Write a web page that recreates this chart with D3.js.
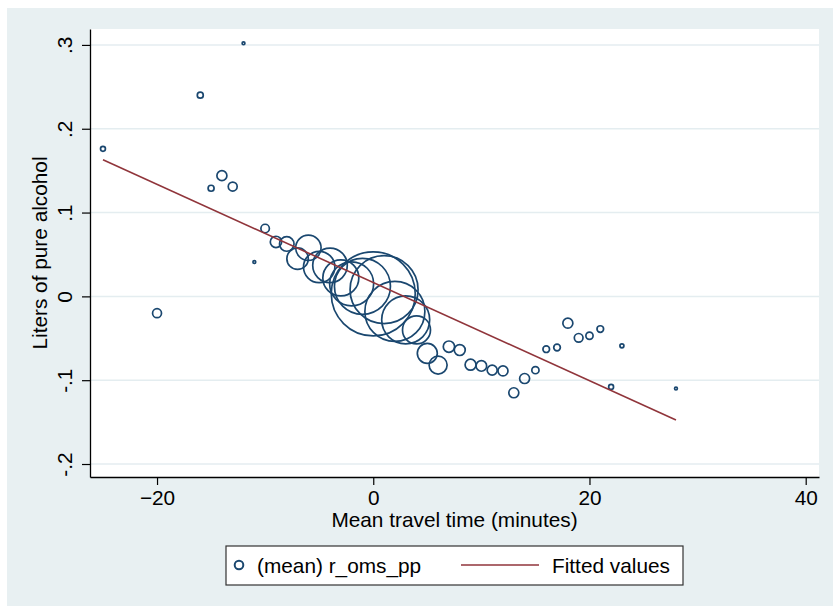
<!DOCTYPE html>
<html>
<head>
<meta charset="utf-8">
<script src="https://cdn.jsdelivr.net/npm/d3@7"></script>
<style>
  body { margin: 0; background: #ffffff; }
  text { font-family: "Liberation Sans", Arial, Helvetica, sans-serif; fill: #000; }
</style>
</head>
<body>
<svg id="chart" width="833" height="610"></svg>
<script>
// Mean travel time (minutes, centred) for each group
const travelTime = [-25, -20, -16, -15, -14, -13, -12, -11, -10, -9, -8, -7, -6, -5, -4, -3, -2, -1,
                    0, 1, 2, 3, 4, 5, 6, 7, 8, 9, 10, 11, 12, 13, 14, 15, 16, 17, 18, 19, 20, 21, 22, 23, 28];
// (mean) r_oms_pp : litres of pure alcohol
const alcohol = [0.176, -0.020, 0.240, 0.129, 0.144, 0.131, 0.302, 0.041, 0.081, 0.065, 0.0625, 0.045, 0.058, 0.035, 0.037, 0.022, 0.015, 0.012,
                 0.003, 0.008, -0.018, -0.028, -0.040, -0.068, -0.082, -0.060, -0.064, -0.0815, -0.083, -0.088, -0.089, -0.115, -0.098, -0.088,
                 -0.063, -0.061, -0.032, -0.0495, -0.047, -0.039, -0.108, -0.059, -0.110];
// Number of observations behind each mean (marker area)
const weight = [6, 20, 9, 9, 25, 20, 2, 2, 18, 32, 53, 115, 161, 246, 299, 324, 484, 784,
                1764, 1156, 900, 576, 196, 100, 81, 32, 30, 30, 28, 25, 25, 25, 25, 13,
                11, 11, 25, 19, 13, 11, 6, 4, 2];

// Linear fit endpoints
const fitX = [-25, 28];
const fitY = [0.163, -0.1475];

const xTicks = [-20, 0, 20, 40];
const yTicks = [-0.2, -0.1, 0, 0.1, 0.2, 0.3];
const yTickLabels = ["-.2", "-.1", "0", ".1", ".2", ".3"];

const svg = d3.select("#chart");
const fontSize = "20.8px";
const navy = "#1a476f";
const maroon = "#90353b";

// outer graph region
svg.append("rect").attr("x", 7).attr("y", 8).attr("width", 826).attr("height", 598).attr("fill", "#e8f0f2");

const plot = { left: 90, right: 819, top: 29, bottom: 477 };
svg.append("rect").attr("x", plot.left).attr("y", plot.top)
  .attr("width", plot.right - plot.left).attr("height", plot.bottom - plot.top).attr("fill", "#ffffff");

const x = d3.scaleLinear().domain([-26.2, 41.23]).range([plot.left, plot.right]);
const y = d3.scaleLinear().domain([-0.2155, 0.319]).range([plot.bottom, plot.top]);
const r = d3.scaleSqrt().domain([0, 1764]).range([0, 42]);

// horizontal grid
svg.append("g").selectAll("line").data(yTicks).join("line")
  .attr("x1", plot.left).attr("x2", plot.right)
  .attr("y1", d => y(d)).attr("y2", d => y(d))
  .attr("stroke", "#e4edf0").attr("stroke-width", 1.5);

// scatter, largest first so small ones stay on top
const pts = travelTime.map((t, i) => ({ t, a: alcohol[i], w: weight[i] }))
  .sort((p, q) => q.w - p.w);
svg.append("g").selectAll("circle").data(pts).join("circle")
  .attr("cx", d => x(d.t)).attr("cy", d => y(d.a)).attr("r", d => Math.max(r(d.w), 1.2))
  .attr("fill", "none").attr("stroke", navy).attr("stroke-width", 1.7);

// fitted line
const line = d3.line().x(d => x(d[0])).y(d => y(d[1]));
svg.append("path").datum(fitX.map((v, i) => [v, fitY[i]]))
  .attr("d", line).attr("fill", "none").attr("stroke", maroon).attr("stroke-width", 1.6);

// axes
const yAxis = svg.append("g").attr("transform", `translate(${plot.left},0)`)
  .call(d3.axisLeft(y).tickValues(yTicks).tickSize(8).tickSizeOuter(0)
    .tickFormat((d, i) => yTickLabels[i]));
yAxis.selectAll("text")
  .attr("transform", "rotate(-90)").attr("x", 0).attr("y", -18).attr("dy", null)
  .attr("text-anchor", "middle").style("font-size", fontSize);

const xAxis = svg.append("g").attr("transform", `translate(0,${plot.bottom})`)
  .call(d3.axisBottom(x).tickValues(xTicks).tickSize(8).tickSizeOuter(0).tickFormat(d3.format("d")));
xAxis.selectAll("text").attr("y", 28).attr("dy", null).style("font-size", fontSize);

[yAxis, xAxis].forEach(g => {
  g.select(".domain").attr("stroke", "#000").attr("stroke-width", 1.3);
  g.selectAll(".tick line").attr("stroke", "#000").attr("stroke-width", 1.2);
  g.attr("font-family", null).attr("font-size", null);
});

// axis titles
svg.append("text").attr("x", (plot.left + plot.right) / 2).attr("y", 527)
  .attr("text-anchor", "middle").style("font-size", fontSize).text("Mean travel time (minutes)");
svg.append("text").attr("transform", `translate(47,${(plot.top + plot.bottom) / 2}) rotate(-90)`)
  .attr("text-anchor", "middle").style("font-size", fontSize).text("Liters of pure alcohol");

// legend
const lg = svg.append("g");
lg.append("rect").attr("x", 226).attr("y", 546).attr("width", 457).attr("height", 39)
  .attr("fill", "#fff").attr("stroke", "#333").attr("stroke-width", 1.2);
lg.append("circle").attr("cx", 239).attr("cy", 565).attr("r", 4.3)
  .attr("fill", "none").attr("stroke", navy).attr("stroke-width", 2);
lg.append("text").attr("x", 257).attr("y", 572.5).style("font-size", fontSize).text("(mean) r_oms_pp");
lg.append("line").attr("x1", 461).attr("x2", 539).attr("y1", 565).attr("y2", 565)
  .attr("stroke", maroon).attr("stroke-width", 1.6);
lg.append("text").attr("x", 552).attr("y", 572.5).style("font-size", fontSize).text("Fitted values");
</script>
</body>
</html>
